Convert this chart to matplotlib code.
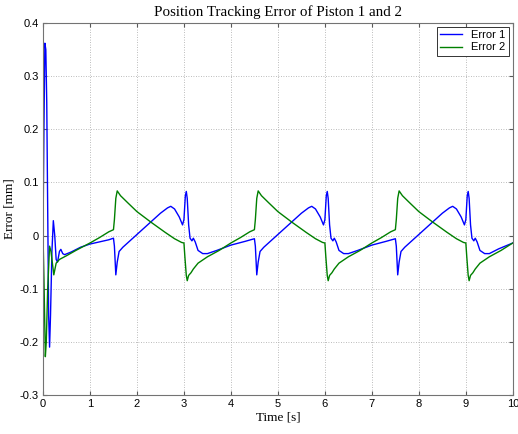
import matplotlib
matplotlib.use("Agg")
import matplotlib.pyplot as plt

# time axis [s] and tracking errors [mm]
t1 = [0.00, 0.02, 0.04, 0.06, 0.08, 0.10, 0.12, 0.14, 0.16, 0.19, 0.22, 0.25,
      0.28, 0.31, 0.35, 0.38, 0.42, 0.46, 0.60, 0.80, 1.00, 1.20, 1.40, 1.50,
      1.52, 1.55, 1.58, 1.62, 1.70, 1.85, 2.00, 2.25, 2.50, 2.65, 2.72, 2.80,
      2.90, 2.97, 3.00, 3.03, 3.05, 3.07, 3.10, 3.13, 3.17, 3.20, 3.24, 3.30,
      3.40, 3.50, 3.70, 4.00, 4.30, 4.50,
      4.52, 4.55, 4.58, 4.62, 4.70, 4.85, 5.00, 5.25, 5.50, 5.65, 5.72, 5.80,
      5.90, 5.97, 6.00, 6.03, 6.05, 6.07, 6.10, 6.13, 6.17, 6.20, 6.24, 6.30,
      6.40, 6.50, 6.70, 7.00, 7.30, 7.50,
      7.52, 7.55, 7.58, 7.62, 7.70, 7.85, 8.00, 8.25, 8.50, 8.65, 8.72, 8.80,
      8.90, 8.97, 9.00, 9.03, 9.05, 9.07, 9.10, 9.13, 9.17, 9.20, 9.24, 9.30,
      9.40, 9.50, 9.70, 10.00]
err1 = [0.000, 0.200, 0.362, 0.350, 0.250, 0.050, -0.150, -0.210, -0.150, -0.030, 0.028, 0.000,
        -0.045, -0.050, -0.030, -0.026, -0.034, -0.036, -0.031, -0.022, -0.016, -0.012, -0.008, -0.005,
        -0.020, -0.074, -0.050, -0.030, -0.022, -0.010, 0.002, 0.022, 0.042, 0.052, 0.055, 0.050,
        0.035, 0.020, 0.030, 0.075, 0.083, 0.070, 0.020, -0.005, -0.010, -0.005, -0.012, -0.028,
        -0.034, -0.034, -0.028, -0.018, -0.011, -0.006,
        -0.020, -0.074, -0.050, -0.030, -0.022, -0.010, 0.002, 0.022, 0.042, 0.052, 0.055, 0.050,
        0.035, 0.020, 0.030, 0.075, 0.083, 0.070, 0.020, -0.005, -0.010, -0.005, -0.012, -0.028,
        -0.034, -0.034, -0.028, -0.018, -0.011, -0.006,
        -0.020, -0.074, -0.050, -0.030, -0.022, -0.010, 0.002, 0.022, 0.042, 0.052, 0.055, 0.050,
        0.035, 0.020, 0.030, 0.075, 0.083, 0.070, 0.020, -0.005, -0.010, -0.005, -0.012, -0.028,
        -0.034, -0.034, -0.025, -0.014]

t2 = [0.00, 0.02, 0.05, 0.07, 0.10, 0.14, 0.17, 0.23, 0.28, 0.35, 0.50, 0.70,
      1.00, 1.20, 1.40, 1.50,
      1.52, 1.55, 1.58, 1.65, 1.80, 2.00, 2.30, 2.60, 2.80, 2.95, 3.00, 3.02,
      3.05, 3.07, 3.10, 3.15, 3.20, 3.30, 3.50, 3.75, 4.00, 4.20, 4.40, 4.50,
      4.52, 4.55, 4.58, 4.65, 4.80, 5.00, 5.30, 5.60, 5.80, 5.95, 6.00, 6.02,
      6.05, 6.07, 6.10, 6.15, 6.20, 6.30, 6.50, 6.75, 7.00, 7.20, 7.40, 7.50,
      7.52, 7.55, 7.58, 7.65, 7.80, 8.00, 8.30, 8.60, 8.80, 8.95, 9.00, 9.02,
      9.05, 9.07, 9.10, 9.15, 9.20, 9.30, 9.50, 9.75, 10.00]
err2 = [0.000, -0.080, -0.228, -0.200, -0.100, -0.020, -0.030, -0.074, -0.052, -0.045, -0.038, -0.028,
        -0.014, -0.004, 0.007, 0.011,
        0.030, 0.070, 0.084, 0.075, 0.062, 0.045, 0.025, 0.006, -0.006, -0.013, -0.014, -0.040,
        -0.075, -0.085, -0.075, -0.070, -0.063, -0.052, -0.040, -0.028, -0.014, -0.004, 0.007, 0.011,
        0.030, 0.070, 0.084, 0.075, 0.062, 0.045, 0.025, 0.006, -0.006, -0.013, -0.014, -0.040,
        -0.075, -0.085, -0.075, -0.070, -0.063, -0.052, -0.040, -0.028, -0.014, -0.004, 0.007, 0.011,
        0.030, 0.070, 0.084, 0.075, 0.062, 0.045, 0.025, 0.006, -0.006, -0.013, -0.014, -0.040,
        -0.075, -0.085, -0.075, -0.070, -0.063, -0.052, -0.040, -0.028, -0.014]

xticks = list(range(0, 11))
yticks = [-0.3, -0.2, -0.1, 0, 0.1, 0.2, 0.3, 0.4]
yticklabels = ['-0.3', '-0.2', '-0.1', '0', '0.1', '0.2', '0.3', '0.4']

plt.rcParams['axes.unicode_minus'] = False
plt.rcParams['font.family'] = ['Liberation Sans', 'DejaVu Sans']

fig = plt.figure(figsize=(5.18, 4.34), dpi=100)
ax = fig.add_axes([0.083, 0.090, 0.907, 0.857])

ax.plot(t1, err1, color='#0000ff', lw=1.0, label='Error 1')
ax.plot(t2, err2, color='#008000', lw=1.0, label='Error 2')

ax.set_xlim(0, 10)
ax.set_ylim(-0.3, 0.4)
ax.set_xticks(xticks)
ax.set_yticks(yticks)
ax.set_yticklabels(yticklabels)
ax.tick_params(direction='in', length=3, labelsize=8, top=True, right=True,
               color='0.35', pad=3)
for s in ax.spines.values():
    s.set_color('0.45')
    s.set_linewidth(0.8)
ax.grid(True, linestyle=(0, (1, 2)), color='0.65', lw=0.6)

ax.set_title('Position Tracking Error of Piston 1 and 2', family='Liberation Serif',
             fontsize=10.8, pad=5)
ax.set_xlabel('Time [s]', family='Liberation Serif', fontsize=9.5, labelpad=2)
ax.set_ylabel('Error [mm]', family='Liberation Serif', fontsize=9.5, labelpad=3)

leg = ax.legend(loc='upper right', fontsize=8, fancybox=False, framealpha=1,
                edgecolor='0.2', borderaxespad=0.35, handlelength=2.0,
                borderpad=0.3, labelspacing=0.2)
leg.get_frame().set_linewidth(0.7)

fig.savefig('out.png', dpi=100)
